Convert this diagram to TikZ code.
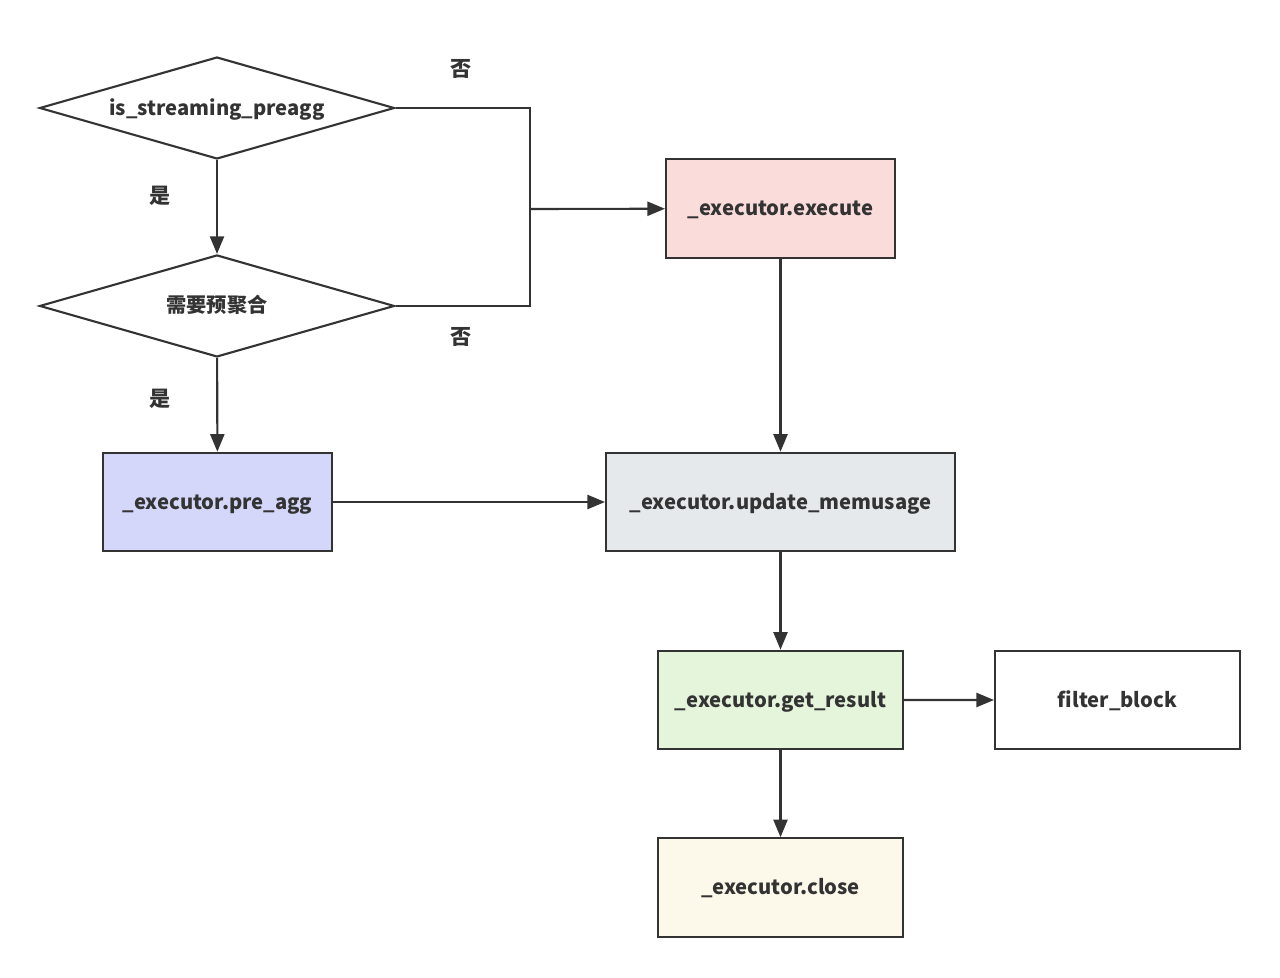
\documentclass[tikz,border=0pt]{standalone}
\usepackage{fontspec}
\setmainfont{Noto Sans CJK SC}
\usepackage{xcolor}
\usetikzlibrary{shapes.geometric,arrows.meta,positioning}
\definecolor{ink}{HTML}{333333}
\definecolor{execfill}{HTML}{FADCDB}
\definecolor{prefill}{HTML}{D4D7F9}
\definecolor{memfill}{HTML}{E6E9EC}
\definecolor{resfill}{HTML}{E4F5DC}
\definecolor{closefill}{HTML}{FCF8EA}

\begin{document}
\begin{tikzpicture}[x=0.02cm, y=-0.02cm, node distance=3.96cm, font=\fontsize{11.5}{14}\selectfont\bfseries, text=ink]
                \tikzstyle{decision} = [diamond, aspect=3.5, inner sep=0pt, minimum width=7.1cm, minimum height=2.04cm, text height=1em, text depth=0.2em, draw=ink, line width=1.2pt, fill=white]
                \tikzstyle{block} = [rectangle, minimum width=4.58cm, minimum height=1.97cm, text height=1em, text depth=0.2em, text centered, draw=ink, line width=1.2pt]
                \tikzstyle{tag} = [font=\fontsize{12}{14}\selectfont\bfseries]
                \tikzstyle{arrow} = [line width=1.2pt, draw=ink, -{Triangle[length=10pt,width=8pt]}]
                \tikzstyle{link} = [line width=1.2pt, draw=ink]

                \useasboundingbox (0,0) rectangle (1280,977);

                \node (isstream) [decision] at (217,108) {is\_streaming\_preagg};
                \node (needagg) [decision, below of=isstream] {需要预聚合};
                \node (preagg) [block, fill=prefill] at (217.5,502) {\_executor.pre\_agg};
                \node (execute) [block, fill=execfill] at (780.5,208.5) {\_executor.execute};
                \node (memusage) [block, fill=memfill, minimum width=6.98cm] at (780.5,502) {\_executor.update\_memusage};
                \node (result) [block, fill=resfill, minimum width=4.9cm, below of=memusage] {\_executor.get\_result};
                \node (filter) [block, fill=white, minimum width=4.9cm] at (1117.5,700) {filter\_block};
                \node (close) [block, fill=closefill, minimum width=4.9cm] at (780.5,887.5) {\_executor.close};
                \coordinate (merge) at (530,209);

                \node (yesA) [tag] at (160,196) {是};
                \node (yesB) [tag] at (160,399) {是};
                \node (noA) [tag] at (461,69) {否};
                \node (noB) [tag] at (461,337) {否};

                \draw [arrow] (isstream) -- (needagg);
                \draw [arrow] (needagg) -- (preagg);
                \draw [link] (isstream.east) -| (merge);
                \draw [link] (needagg.east) -| (merge);
                \draw [arrow] (merge) -- (execute);
                \draw [arrow] (execute) -- (memusage);
                \draw [arrow] (preagg) -- (memusage);
                \draw [arrow] (memusage) -- (result);
                \draw [arrow] (result) -- (filter);
                \draw [arrow] (result) -- (close);
            \end{tikzpicture}
\end{document}
